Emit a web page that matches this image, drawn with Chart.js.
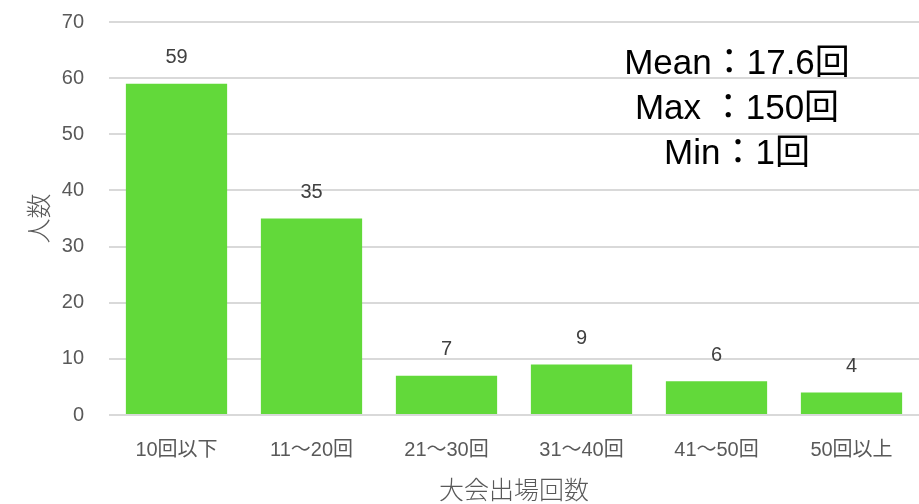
<!DOCTYPE html>
<html lang="ja">
<head>
<meta charset="utf-8">
<title>大会出場回数</title>
<script src="https://cdn.jsdelivr.net/npm/chart.js@4.4.0/dist/chart.umd.min.js"></script>
<style>
  html, body { margin: 0; padding: 0; background: #fff; }
  #wrap { width: 919px; height: 504px; }
</style>
</head>
<body>
<div id="wrap"><canvas id="chart" width="919" height="504"></canvas></div>
<script>
// --- Data ---
const categories = ['10回以下', '11～20回', '21～30回', '31～40回', '41～50回', '50回以上'];
const counts = [59, 35, 7, 9, 6, 4];
const yTicks = [0, 10, 20, 30, 40, 50, 60, 70];
const statLines = ['Mean：17.6回', 'Max ：150回', 'Min：1回'];

const FONT = "'Liberation Sans', 'Noto Sans CJK JP', sans-serif";
const colors = {
    bar: '#62d93a',
    grid: '#d9d9d9',
    tick: '#595959',
    label: '#404040',
    stats: '#000000'
};

// value labels above each bar
const barLabels = {
    id: 'barLabels',
    afterDatasetsDraw(chart) {
        const ctx = chart.ctx;
        const meta = chart.getDatasetMeta(0);
        ctx.save();
        ctx.font = '20px ' + FONT;
        ctx.fillStyle = colors.label;
        ctx.textAlign = 'center';
        ctx.textBaseline = 'middle';
        meta.data.forEach((bar, i) => {
            ctx.fillText(String(counts[i]), bar.x, bar.y - 26);
        });
        ctx.restore();
    }
};

// summary text block in the upper right
const statsBox = {
    id: 'statsBox',
    afterDraw(chart) {
        const ctx = chart.ctx;
        ctx.save();
        ctx.font = '35px ' + FONT;
        ctx.fillStyle = colors.stats;
        ctx.textAlign = 'center';
        ctx.textBaseline = 'middle';
        statLines.forEach((line, i) => {
            ctx.fillText(line, 737, 64 + i * 45);
        });
        ctx.restore();
    }
};

new Chart(document.getElementById('chart'), {
    type: 'bar',
    data: {
        labels: categories,
        datasets: [{
            data: counts,
            backgroundColor: colors.bar,
            borderWidth: 0,
            categoryPercentage: 0.75,
            barPercentage: 1.0
        }]
    },
    options: {
        responsive: false,
        animation: false,
        layout: { padding: { top: 22, right: 0, left: 0, bottom: 0 } },
        plugins: {
            legend: { display: false },
            tooltip: { enabled: false }
        },
        scales: {
            x: {
                grid: { display: false, drawTicks: false },
                border: { display: false },
                ticks: { color: colors.tick, font: { size: 20, family: FONT }, padding: 23, maxRotation: 0 },
                title: {
                    display: true,
                    text: '大会出場回数',
                    color: colors.tick,
                    font: { size: 25, family: "'Noto Sans CJK JP', sans-serif", weight: '300' },
                    padding: { top: 2, bottom: 0 }
                },
                afterFit: (scale) => {
                    scale.height = 89;
                    scale.paddingLeft = 0;
                    scale.paddingRight = 0;
                }
            },
            y: {
                min: 0,
                max: 70,
                afterBuildTicks: (scale) => { scale.ticks = yTicks.map(v => ({ value: v })); },
                grid: { color: colors.grid, lineWidth: 2, drawTicks: false },
                border: { display: false },
                ticks: { color: colors.tick, font: { size: 20, family: FONT }, padding: 25 },
                title: {
                    display: true,
                    text: '人数',
                    color: colors.tick,
                    font: { size: 25, family: "'Noto Sans CJK JP', sans-serif", weight: '300' },
                    padding: { top: 23, bottom: 0 }
                },
                afterFit: (scale) => {
                    scale.width = 109;
                    scale.paddingTop = 0;
                    scale.paddingBottom = 0;
                }
            }
        }
    },
    plugins: [barLabels, statsBox]
});
</script>
</body>
</html>
